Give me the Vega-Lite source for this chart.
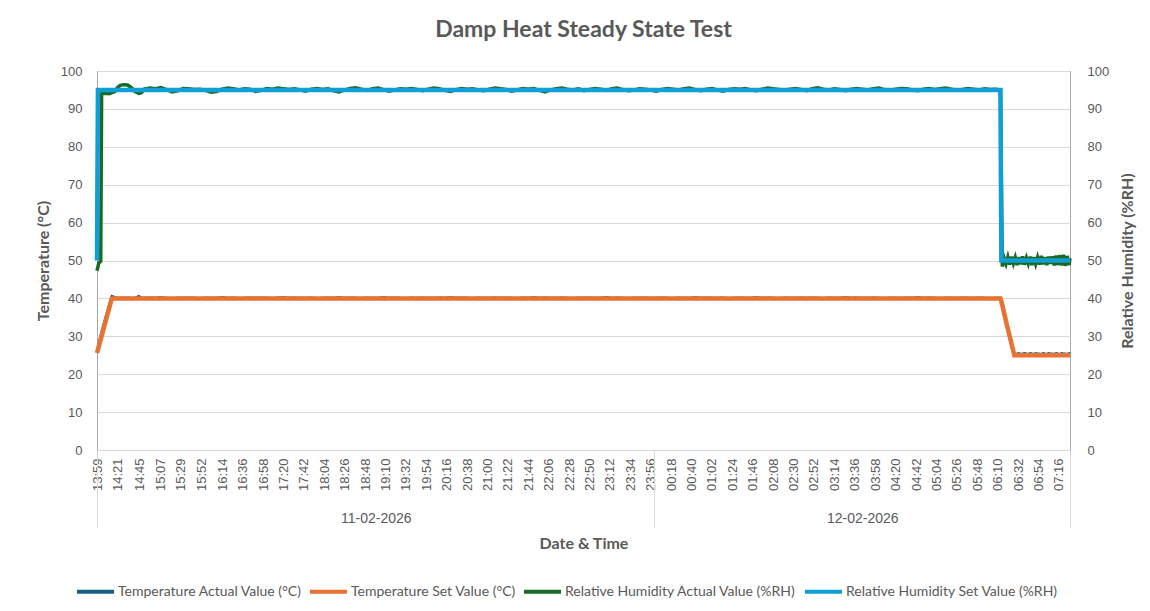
{
  "$schema": "https://vega.github.io/schema/vega-lite/v6.json",
  "width": 973,
  "height": 379,
  "autosize": {"type": "none"},
  "padding": {"left": 97, "top": 71, "right": 80, "bottom": 161},
  "background": "white",
  "title": {"text": "Damp Heat Steady State Test", "font": "Lato", "fontSize": 23, "fontWeight": "bold", "color": "#595959", "anchor": "middle", "baseline": "bottom", "offset": 0},
  "config": {
    "view": {"stroke": "#A6A6A6"},
    "axis": {"labelFont": "Liberation Sans", "labelFontSize": 13, "labelColor": "#595959", "titleFont": "Lato", "titleFontSize": 16, "titleFontWeight": "bold", "titleColor": "#595959"}
  },
  "datasets": {
    "set": [
      {"t": "2026-02-11T13:59", "ts": 25.6, "hs": 50},
      {"t": "2026-02-11T14:00", "ts": 26.5, "hs": 95},
      {"t": "2026-02-11T14:15", "ts": 40, "hs": 95},
      {"t": "2026-02-12T06:13", "ts": 40, "hs": 95},
      {"t": "2026-02-12T06:14", "ts": 39.2, "hs": 50},
      {"t": "2026-02-12T06:21", "ts": 31.9, "hs": 50},
      {"t": "2026-02-12T06:28", "ts": 25, "hs": 50},
      {"t": "2026-02-12T07:28", "ts": 25, "hs": 50}
    ],
    "actual": [
      {"t": "2026-02-11T13:59", "ta": 25.8, "ha": 47.3},
      {"t": "2026-02-11T14:01", "ta": 28.0, "ha": 49.4},
      {"t": "2026-02-11T14:03", "ta": 30.2, "ha": 49.8},
      {"t": "2026-02-11T14:04", "ta": 31.2, "ha": 94.0},
      {"t": "2026-02-11T14:08", "ta": 34.8, "ha": 94.1},
      {"t": "2026-02-11T14:12", "ta": 38.2, "ha": 94.0},
      {"t": "2026-02-11T14:15", "ta": 40.6, "ha": 94.3},
      {"t": "2026-02-11T14:18", "ta": 40.3, "ha": 94.5},
      {"t": "2026-02-11T14:21", "ta": 40.1, "ha": 95.6},
      {"t": "2026-02-11T14:24", "ta": 40.2, "ha": 96.2},
      {"t": "2026-02-11T14:28", "ta": 40.1, "ha": 96.4},
      {"t": "2026-02-11T14:32", "ta": 40.2, "ha": 96.3},
      {"t": "2026-02-11T14:36", "ta": 40.0, "ha": 95.6},
      {"t": "2026-02-11T14:40", "ta": 40.1, "ha": 94.6},
      {"t": "2026-02-11T14:44", "ta": 40.6, "ha": 94.1},
      {"t": "2026-02-11T14:47", "ta": 40.2, "ha": 94.3},
      {"t": "2026-02-11T14:50", "ta": 40.1, "ha": 95.2},
      {"t": "2026-02-11T14:56", "ta": 40.2, "ha": 95.5},
      {"t": "2026-02-11T15:02", "ta": 40.1, "ha": 95.3},
      {"t": "2026-02-11T15:08", "ta": 40.3, "ha": 95.6},
      {"t": "2026-02-11T15:14", "ta": 40.1, "ha": 95.1},
      {"t": "2026-02-11T15:20", "ta": 40.0, "ha": 94.5},
      {"t": "2026-02-11T15:26", "ta": 40.2, "ha": 94.8},
      {"t": "2026-02-11T15:32", "ta": 40.1, "ha": 95.4},
      {"t": "2026-02-11T15:38", "ta": 40.2, "ha": 95.3},
      {"t": "2026-02-11T15:44", "ta": 40.1, "ha": 95.1},
      {"t": "2026-02-11T15:50", "ta": 40.0, "ha": 95.2},
      {"t": "2026-02-11T15:56", "ta": 40.2, "ha": 94.9},
      {"t": "2026-02-11T16:02", "ta": 40.1, "ha": 94.4},
      {"t": "2026-02-11T16:08", "ta": 40.1, "ha": 94.6},
      {"t": "2026-02-11T16:14", "ta": 40.3, "ha": 95.2},
      {"t": "2026-02-11T16:20", "ta": 40.1, "ha": 95.5},
      {"t": "2026-02-11T16:26", "ta": 40.2, "ha": 95.3},
      {"t": "2026-02-11T16:32", "ta": 40.0, "ha": 95.0},
      {"t": "2026-02-11T16:38", "ta": 40.1, "ha": 95.3},
      {"t": "2026-02-11T16:44", "ta": 40.2, "ha": 95.2},
      {"t": "2026-02-11T16:50", "ta": 40.1, "ha": 94.6},
      {"t": "2026-02-11T16:56", "ta": 40.2, "ha": 94.9},
      {"t": "2026-02-11T17:02", "ta": 40.1, "ha": 95.4},
      {"t": "2026-02-11T17:08", "ta": 40.0, "ha": 95.2},
      {"t": "2026-02-11T17:14", "ta": 40.2, "ha": 95.5},
      {"t": "2026-02-11T17:20", "ta": 40.3, "ha": 95.3},
      {"t": "2026-02-11T17:26", "ta": 40.1, "ha": 95.1},
      {"t": "2026-02-11T17:32", "ta": 40.2, "ha": 95.3},
      {"t": "2026-02-11T17:38", "ta": 40.1, "ha": 95.0},
      {"t": "2026-02-11T17:44", "ta": 40.1, "ha": 94.7},
      {"t": "2026-02-11T17:50", "ta": 40.2, "ha": 95.2},
      {"t": "2026-02-11T17:56", "ta": 40.0, "ha": 95.4},
      {"t": "2026-02-11T18:02", "ta": 40.1, "ha": 95.1},
      {"t": "2026-02-11T18:08", "ta": 40.2, "ha": 95.3},
      {"t": "2026-02-11T18:14", "ta": 40.1, "ha": 94.8},
      {"t": "2026-02-11T18:20", "ta": 40.3, "ha": 94.5},
      {"t": "2026-02-11T18:26", "ta": 40.1, "ha": 95.0},
      {"t": "2026-02-11T18:32", "ta": 40.2, "ha": 95.4},
      {"t": "2026-02-11T18:38", "ta": 40.1, "ha": 95.6},
      {"t": "2026-02-11T18:44", "ta": 40.0, "ha": 95.2},
      {"t": "2026-02-11T18:50", "ta": 40.2, "ha": 94.9},
      {"t": "2026-02-11T18:56", "ta": 40.1, "ha": 95.3},
      {"t": "2026-02-11T19:02", "ta": 40.1, "ha": 95.5},
      {"t": "2026-02-11T19:08", "ta": 40.3, "ha": 95.1},
      {"t": "2026-02-11T19:14", "ta": 40.1, "ha": 94.7},
      {"t": "2026-02-11T19:20", "ta": 40.2, "ha": 95.0},
      {"t": "2026-02-11T19:26", "ta": 40.1, "ha": 95.3},
      {"t": "2026-02-11T19:32", "ta": 40.0, "ha": 95.2},
      {"t": "2026-02-11T19:38", "ta": 40.2, "ha": 95.4},
      {"t": "2026-02-11T19:44", "ta": 40.1, "ha": 95.1},
      {"t": "2026-02-11T19:50", "ta": 40.2, "ha": 94.8},
      {"t": "2026-02-11T19:56", "ta": 40.1, "ha": 95.2},
      {"t": "2026-02-11T20:02", "ta": 40.1, "ha": 95.5},
      {"t": "2026-02-11T20:08", "ta": 40.2, "ha": 95.3},
      {"t": "2026-02-11T20:14", "ta": 40.1, "ha": 94.9},
      {"t": "2026-02-11T20:20", "ta": 40.3, "ha": 94.6},
      {"t": "2026-02-11T20:26", "ta": 40.1, "ha": 95.1},
      {"t": "2026-02-11T20:32", "ta": 40.2, "ha": 95.4},
      {"t": "2026-02-11T20:38", "ta": 40.1, "ha": 95.2},
      {"t": "2026-02-11T20:44", "ta": 40.0, "ha": 95.3},
      {"t": "2026-02-11T20:50", "ta": 40.2, "ha": 95.0},
      {"t": "2026-02-11T20:56", "ta": 40.1, "ha": 94.8},
      {"t": "2026-02-11T21:02", "ta": 40.1, "ha": 95.2},
      {"t": "2026-02-11T21:08", "ta": 40.2, "ha": 95.5},
      {"t": "2026-02-11T21:14", "ta": 40.1, "ha": 95.3},
      {"t": "2026-02-11T21:20", "ta": 40.2, "ha": 95.1},
      {"t": "2026-02-11T21:26", "ta": 40.1, "ha": 94.7},
      {"t": "2026-02-11T21:32", "ta": 40.0, "ha": 95.0},
      {"t": "2026-02-11T21:38", "ta": 40.2, "ha": 95.4},
      {"t": "2026-02-11T21:44", "ta": 40.1, "ha": 95.2},
      {"t": "2026-02-11T21:50", "ta": 40.3, "ha": 95.4},
      {"t": "2026-02-11T21:56", "ta": 40.1, "ha": 94.9},
      {"t": "2026-02-11T22:02", "ta": 40.2, "ha": 94.5},
      {"t": "2026-02-11T22:08", "ta": 40.1, "ha": 95.0},
      {"t": "2026-02-11T22:14", "ta": 40.1, "ha": 95.3},
      {"t": "2026-02-11T22:20", "ta": 40.2, "ha": 95.5},
      {"t": "2026-02-11T22:26", "ta": 40.1, "ha": 95.2},
      {"t": "2026-02-11T22:32", "ta": 40.0, "ha": 95.0},
      {"t": "2026-02-11T22:38", "ta": 40.2, "ha": 95.3},
      {"t": "2026-02-11T22:44", "ta": 40.1, "ha": 94.8},
      {"t": "2026-02-11T22:50", "ta": 40.2, "ha": 95.1},
      {"t": "2026-02-11T22:56", "ta": 40.1, "ha": 95.4},
      {"t": "2026-02-11T23:02", "ta": 40.1, "ha": 95.2},
      {"t": "2026-02-11T23:08", "ta": 40.3, "ha": 94.9},
      {"t": "2026-02-11T23:14", "ta": 40.1, "ha": 95.3},
      {"t": "2026-02-11T23:20", "ta": 40.2, "ha": 95.5},
      {"t": "2026-02-11T23:26", "ta": 40.1, "ha": 95.1},
      {"t": "2026-02-11T23:32", "ta": 40.0, "ha": 94.8},
      {"t": "2026-02-11T23:38", "ta": 40.2, "ha": 95.0},
      {"t": "2026-02-11T23:44", "ta": 40.1, "ha": 95.3},
      {"t": "2026-02-11T23:50", "ta": 40.2, "ha": 95.2},
      {"t": "2026-02-11T23:56", "ta": 40.1, "ha": 95.0},
      {"t": "2026-02-12T00:02", "ta": 40.1, "ha": 94.7},
      {"t": "2026-02-12T00:08", "ta": 40.2, "ha": 95.1},
      {"t": "2026-02-12T00:14", "ta": 40.1, "ha": 95.4},
      {"t": "2026-02-12T00:20", "ta": 40.0, "ha": 95.2},
      {"t": "2026-02-12T00:26", "ta": 40.2, "ha": 95.0},
      {"t": "2026-02-12T00:32", "ta": 40.1, "ha": 95.3},
      {"t": "2026-02-12T00:38", "ta": 40.1, "ha": 95.5},
      {"t": "2026-02-12T00:44", "ta": 40.3, "ha": 95.1},
      {"t": "2026-02-12T00:50", "ta": 40.1, "ha": 94.8},
      {"t": "2026-02-12T00:56", "ta": 40.2, "ha": 95.2},
      {"t": "2026-02-12T01:02", "ta": 40.1, "ha": 95.4},
      {"t": "2026-02-12T01:08", "ta": 40.1, "ha": 95.0},
      {"t": "2026-02-12T01:14", "ta": 40.2, "ha": 94.7},
      {"t": "2026-02-12T01:20", "ta": 40.0, "ha": 95.1},
      {"t": "2026-02-12T01:26", "ta": 40.1, "ha": 95.3},
      {"t": "2026-02-12T01:32", "ta": 40.2, "ha": 95.2},
      {"t": "2026-02-12T01:38", "ta": 40.1, "ha": 95.4},
      {"t": "2026-02-12T01:44", "ta": 40.1, "ha": 95.0},
      {"t": "2026-02-12T01:50", "ta": 40.3, "ha": 94.8},
      {"t": "2026-02-12T01:56", "ta": 40.1, "ha": 95.2},
      {"t": "2026-02-12T02:02", "ta": 40.2, "ha": 95.5},
      {"t": "2026-02-12T02:08", "ta": 40.1, "ha": 95.3},
      {"t": "2026-02-12T02:14", "ta": 40.0, "ha": 95.1},
      {"t": "2026-02-12T02:20", "ta": 40.2, "ha": 94.9},
      {"t": "2026-02-12T02:26", "ta": 40.1, "ha": 95.2},
      {"t": "2026-02-12T02:32", "ta": 40.1, "ha": 95.4},
      {"t": "2026-02-12T02:38", "ta": 40.2, "ha": 95.1},
      {"t": "2026-02-12T02:44", "ta": 40.1, "ha": 94.8},
      {"t": "2026-02-12T02:50", "ta": 40.2, "ha": 95.3},
      {"t": "2026-02-12T02:56", "ta": 40.1, "ha": 95.6},
      {"t": "2026-02-12T03:02", "ta": 40.0, "ha": 95.2},
      {"t": "2026-02-12T03:08", "ta": 40.2, "ha": 95.0},
      {"t": "2026-02-12T03:14", "ta": 40.1, "ha": 95.3},
      {"t": "2026-02-12T03:20", "ta": 40.1, "ha": 95.1},
      {"t": "2026-02-12T03:26", "ta": 40.3, "ha": 94.8},
      {"t": "2026-02-12T03:32", "ta": 40.1, "ha": 95.2},
      {"t": "2026-02-12T03:38", "ta": 40.2, "ha": 95.4},
      {"t": "2026-02-12T03:44", "ta": 40.1, "ha": 95.2},
      {"t": "2026-02-12T03:50", "ta": 40.1, "ha": 95.0},
      {"t": "2026-02-12T03:56", "ta": 40.2, "ha": 95.3},
      {"t": "2026-02-12T04:02", "ta": 40.1, "ha": 95.5},
      {"t": "2026-02-12T04:08", "ta": 40.0, "ha": 95.1},
      {"t": "2026-02-12T04:14", "ta": 40.2, "ha": 94.9},
      {"t": "2026-02-12T04:20", "ta": 40.1, "ha": 95.2},
      {"t": "2026-02-12T04:26", "ta": 40.1, "ha": 95.4},
      {"t": "2026-02-12T04:32", "ta": 40.2, "ha": 95.3},
      {"t": "2026-02-12T04:38", "ta": 40.1, "ha": 95.0},
      {"t": "2026-02-12T04:44", "ta": 40.3, "ha": 94.8},
      {"t": "2026-02-12T04:50", "ta": 40.1, "ha": 95.2},
      {"t": "2026-02-12T04:56", "ta": 40.2, "ha": 95.4},
      {"t": "2026-02-12T05:02", "ta": 40.1, "ha": 95.1},
      {"t": "2026-02-12T05:08", "ta": 40.0, "ha": 95.3},
      {"t": "2026-02-12T05:14", "ta": 40.2, "ha": 95.5},
      {"t": "2026-02-12T05:20", "ta": 40.1, "ha": 95.2},
      {"t": "2026-02-12T05:26", "ta": 40.1, "ha": 94.9},
      {"t": "2026-02-12T05:32", "ta": 40.2, "ha": 95.1},
      {"t": "2026-02-12T05:38", "ta": 40.1, "ha": 95.4},
      {"t": "2026-02-12T05:44", "ta": 40.1, "ha": 95.2},
      {"t": "2026-02-12T05:50", "ta": 40.2, "ha": 95.0},
      {"t": "2026-02-12T05:56", "ta": 40.1, "ha": 95.3},
      {"t": "2026-02-12T06:02", "ta": 40.0, "ha": 95.1},
      {"t": "2026-02-12T06:08", "ta": 40.1, "ha": 95.2},
      {"t": "2026-02-12T06:13", "ta": 40.1, "ha": 95.0},
      {"t": "2026-02-12T06:15", "ta": 39.0, "ha": 48.4},
      {"t": "2026-02-12T06:17", "ta": 36.8, "ha": 50.6},
      {"t": "2026-02-12T06:19", "ta": 34.3, "ha": 49.1},
      {"t": "2026-02-12T06:21", "ta": 31.9, "ha": 50.9},
      {"t": "2026-02-12T06:23", "ta": 29.6, "ha": 48.9},
      {"t": "2026-02-12T06:25", "ta": 27.5, "ha": 51.0},
      {"t": "2026-02-12T06:27", "ta": 25.8, "ha": 49.2},
      {"t": "2026-02-12T06:29", "ta": 25.3, "ha": 50.8},
      {"t": "2026-02-12T06:31", "ta": 25.4, "ha": 48.8},
      {"t": "2026-02-12T06:33", "ta": 25.5, "ha": 50.9},
      {"t": "2026-02-12T06:35", "ta": 25.3, "ha": 49.0},
      {"t": "2026-02-12T06:37", "ta": 25.4, "ha": 51.1},
      {"t": "2026-02-12T06:39", "ta": 25.5, "ha": 48.9},
      {"t": "2026-02-12T06:41", "ta": 25.4, "ha": 50.7},
      {"t": "2026-02-12T06:43", "ta": 25.3, "ha": 49.2},
      {"t": "2026-02-12T06:45", "ta": 25.5, "ha": 51.0},
      {"t": "2026-02-12T06:47", "ta": 25.4, "ha": 48.8},
      {"t": "2026-02-12T06:49", "ta": 25.3, "ha": 50.9},
      {"t": "2026-02-12T06:51", "ta": 25.5, "ha": 49.1},
      {"t": "2026-02-12T06:53", "ta": 25.4, "ha": 50.8},
      {"t": "2026-02-12T06:55", "ta": 25.4, "ha": 48.9},
      {"t": "2026-02-12T06:57", "ta": 25.3, "ha": 51.2},
      {"t": "2026-02-12T06:59", "ta": 25.5, "ha": 49.0},
      {"t": "2026-02-12T07:01", "ta": 25.4, "ha": 50.9},
      {"t": "2026-02-12T07:03", "ta": 25.3, "ha": 48.8},
      {"t": "2026-02-12T07:05", "ta": 25.5, "ha": 51.0},
      {"t": "2026-02-12T07:07", "ta": 25.4, "ha": 49.1},
      {"t": "2026-02-12T07:09", "ta": 25.4, "ha": 51.1},
      {"t": "2026-02-12T07:11", "ta": 25.3, "ha": 48.7},
      {"t": "2026-02-12T07:13", "ta": 25.5, "ha": 51.3},
      {"t": "2026-02-12T07:15", "ta": 25.4, "ha": 48.8},
      {"t": "2026-02-12T07:17", "ta": 25.3, "ha": 51.4},
      {"t": "2026-02-12T07:19", "ta": 25.5, "ha": 48.7},
      {"t": "2026-02-12T07:21", "ta": 25.4, "ha": 51.5},
      {"t": "2026-02-12T07:23", "ta": 25.4, "ha": 48.6},
      {"t": "2026-02-12T07:25", "ta": 25.3, "ha": 51.2},
      {"t": "2026-02-12T07:27", "ta": 25.5, "ha": 48.8},
      {"t": "2026-02-12T07:28", "ta": 25.4, "ha": 50.6}
    ]
  },
  "resolve": {"scale": {"y": "independent"}, "axis": {"x": "independent"}},
  "layer": [
    {
      "data": {"name": "actual"},
      "mark": {"type": "line", "strokeWidth": 2.5},
      "encoding": {
        "x": {
          "field": "t", "type": "temporal",
          "scale": {"domain": [{"year": 2026, "month": 2, "date": 11, "hours": 13, "minutes": 59}, {"year": 2026, "month": 2, "date": 12, "hours": 7, "minutes": 28}], "nice": false},
          "axis": {
            "orient": "bottom",
            "values": [
              {"year": 2026, "month": 2, "date": 11, "hours": 13, "minutes": 59},
              {"year": 2026, "month": 2, "date": 11, "hours": 14, "minutes": 21},
              {"year": 2026, "month": 2, "date": 11, "hours": 14, "minutes": 45},
              {"year": 2026, "month": 2, "date": 11, "hours": 15, "minutes": 7},
              {"year": 2026, "month": 2, "date": 11, "hours": 15, "minutes": 29},
              {"year": 2026, "month": 2, "date": 11, "hours": 15, "minutes": 52},
              {"year": 2026, "month": 2, "date": 11, "hours": 16, "minutes": 14},
              {"year": 2026, "month": 2, "date": 11, "hours": 16, "minutes": 36},
              {"year": 2026, "month": 2, "date": 11, "hours": 16, "minutes": 58},
              {"year": 2026, "month": 2, "date": 11, "hours": 17, "minutes": 20},
              {"year": 2026, "month": 2, "date": 11, "hours": 17, "minutes": 42},
              {"year": 2026, "month": 2, "date": 11, "hours": 18, "minutes": 4},
              {"year": 2026, "month": 2, "date": 11, "hours": 18, "minutes": 26},
              {"year": 2026, "month": 2, "date": 11, "hours": 18, "minutes": 48},
              {"year": 2026, "month": 2, "date": 11, "hours": 19, "minutes": 10},
              {"year": 2026, "month": 2, "date": 11, "hours": 19, "minutes": 32},
              {"year": 2026, "month": 2, "date": 11, "hours": 19, "minutes": 54},
              {"year": 2026, "month": 2, "date": 11, "hours": 20, "minutes": 16},
              {"year": 2026, "month": 2, "date": 11, "hours": 20, "minutes": 38},
              {"year": 2026, "month": 2, "date": 11, "hours": 21, "minutes": 0},
              {"year": 2026, "month": 2, "date": 11, "hours": 21, "minutes": 22},
              {"year": 2026, "month": 2, "date": 11, "hours": 21, "minutes": 44},
              {"year": 2026, "month": 2, "date": 11, "hours": 22, "minutes": 6},
              {"year": 2026, "month": 2, "date": 11, "hours": 22, "minutes": 28},
              {"year": 2026, "month": 2, "date": 11, "hours": 22, "minutes": 50},
              {"year": 2026, "month": 2, "date": 11, "hours": 23, "minutes": 12},
              {"year": 2026, "month": 2, "date": 11, "hours": 23, "minutes": 34},
              {"year": 2026, "month": 2, "date": 11, "hours": 23, "minutes": 56},
              {"year": 2026, "month": 2, "date": 12, "hours": 0, "minutes": 18},
              {"year": 2026, "month": 2, "date": 12, "hours": 0, "minutes": 40},
              {"year": 2026, "month": 2, "date": 12, "hours": 1, "minutes": 2},
              {"year": 2026, "month": 2, "date": 12, "hours": 1, "minutes": 24},
              {"year": 2026, "month": 2, "date": 12, "hours": 1, "minutes": 46},
              {"year": 2026, "month": 2, "date": 12, "hours": 2, "minutes": 8},
              {"year": 2026, "month": 2, "date": 12, "hours": 2, "minutes": 30},
              {"year": 2026, "month": 2, "date": 12, "hours": 2, "minutes": 52},
              {"year": 2026, "month": 2, "date": 12, "hours": 3, "minutes": 14},
              {"year": 2026, "month": 2, "date": 12, "hours": 3, "minutes": 36},
              {"year": 2026, "month": 2, "date": 12, "hours": 3, "minutes": 58},
              {"year": 2026, "month": 2, "date": 12, "hours": 4, "minutes": 20},
              {"year": 2026, "month": 2, "date": 12, "hours": 4, "minutes": 42},
              {"year": 2026, "month": 2, "date": 12, "hours": 5, "minutes": 4},
              {"year": 2026, "month": 2, "date": 12, "hours": 5, "minutes": 26},
              {"year": 2026, "month": 2, "date": 12, "hours": 5, "minutes": 48},
              {"year": 2026, "month": 2, "date": 12, "hours": 6, "minutes": 10},
              {"year": 2026, "month": 2, "date": 12, "hours": 6, "minutes": 32},
              {"year": 2026, "month": 2, "date": 12, "hours": 6, "minutes": 54},
              {"year": 2026, "month": 2, "date": 12, "hours": 7, "minutes": 16}
            ],
            "format": "%H:%M",
            "labelAngle": 270,
            "labelAlign": "right",
            "labelBaseline": "middle",
            "labelPadding": 8,
            "labelFontSize": 13,
            "labelOverlap": false,
            "labelFlush": false,
            "labelBound": false,
            "ticks": false,
            "domain": true,
            "domainColor": "#D9D9D9",
            "grid": false,
            "title": null
          }
        },
        "y": {
          "field": "ta", "type": "quantitative",
          "scale": {"domain": [0, 100], "nice": false},
          "axis": {
            "orient": "left",
            "values": [0, 10, 20, 30, 40, 50, 60, 70, 80, 90, 100],
            "grid": true, "gridColor": "#D9D9D9",
            "domain": false, "ticks": false,
            "labelPadding": 15,
            "title": "Temperature (°C)",
            "titlePadding": 9
          }
        },
        "color": {
          "datum": "Temperature Actual Value (°C)",
          "type": "nominal",
          "scale": {
            "domain": ["Temperature Actual Value (°C)", "Temperature Set Value (°C)", "Relative Humidity Actual Value (%RH)", "Relative Humidity Set Value (%RH)"],
            "range": ["#156082", "#E97132", "#196B24", "#0F9ED5"]
          },
          "legend": {
            "orient": "none",
            "legendX": -22,
            "legendY": 500,
            "direction": "horizontal",
            "title": null,
            "symbolType": "stroke",
            "symbolSize": 1369,
            "symbolStrokeWidth": 4,
            "labelFont": "Lato",
            "labelFontSize": 14,
            "labelColor": "#595959",
            "labelLimit": 400,
            "labelOffset": 2,
            "columnPadding": 0,
            "padding": 0
          }
        }
      }
    },
    {
      "data": {"name": "set"},
      "mark": {"type": "line", "strokeWidth": 4.5},
      "encoding": {
        "x": {
          "field": "t", "type": "temporal",
          "axis": {
            "orient": "bottom",
            "values": [
              {"year": 2026, "month": 2, "date": 11, "hours": 18, "minutes": 59, "seconds": 30},
              {"year": 2026, "month": 2, "date": 12, "hours": 3, "minutes": 44}
            ],
            "format": "%d-%m-%Y",
            "labelAngle": 0,
            "labelAlign": "center",
            "labelBaseline": "top",
            "labelPadding": 61,
            "labelFontSize": 14,
            "labelOverlap": false,
            "labelFlush": false,
            "ticks": false,
            "domain": false,
            "grid": false,
            "title": "Date & Time",
            "titlePadding": 10
          }
        },
        "y": {"field": "ts", "type": "quantitative", "scale": {"domain": [0, 100], "nice": false}, "axis": null},
        "color": {"datum": "Temperature Set Value (°C)", "type": "nominal"}
      }
    },
    {
      "data": {"name": "actual"},
      "mark": {"type": "line", "strokeWidth": 3.5},
      "encoding": {
        "x": {
          "field": "t", "type": "temporal",
          "axis": {
            "orient": "bottom",
            "values": [
              {"year": 2026, "month": 2, "date": 11, "hours": 13, "minutes": 59},
              {"year": 2026, "month": 2, "date": 12, "hours": 0, "minutes": 0},
              {"year": 2026, "month": 2, "date": 12, "hours": 7, "minutes": 28}
            ],
            "labels": false,
            "domain": false,
            "grid": false,
            "ticks": true,
            "tickSize": 78,
            "tickColor": "#D9D9D9",
            "tickWidth": 1,
            "title": null
          }
        },
        "y": {
          "field": "ha", "type": "quantitative",
          "scale": {"domain": [0, 100], "nice": false},
          "axis": {
            "orient": "right",
            "values": [0, 10, 20, 30, 40, 50, 60, 70, 80, 90, 100],
            "grid": false,
            "domain": false, "ticks": false,
            "labelPadding": 17,
            "title": "Relative Humidity (%RH)",
            "titleAngle": 270,
            "titleBaseline": "top",
            "titlePadding": 11
          }
        },
        "color": {"datum": "Relative Humidity Actual Value (%RH)", "type": "nominal"}
      }
    },
    {
      "data": {"name": "set"},
      "mark": {"type": "line", "strokeWidth": 4.5},
      "encoding": {
        "x": {"field": "t", "type": "temporal", "axis": null},
        "y": {"field": "hs", "type": "quantitative", "scale": {"domain": [0, 100], "nice": false}, "axis": null},
        "color": {"datum": "Relative Humidity Set Value (%RH)", "type": "nominal"}
      }
    }
  ]
}
